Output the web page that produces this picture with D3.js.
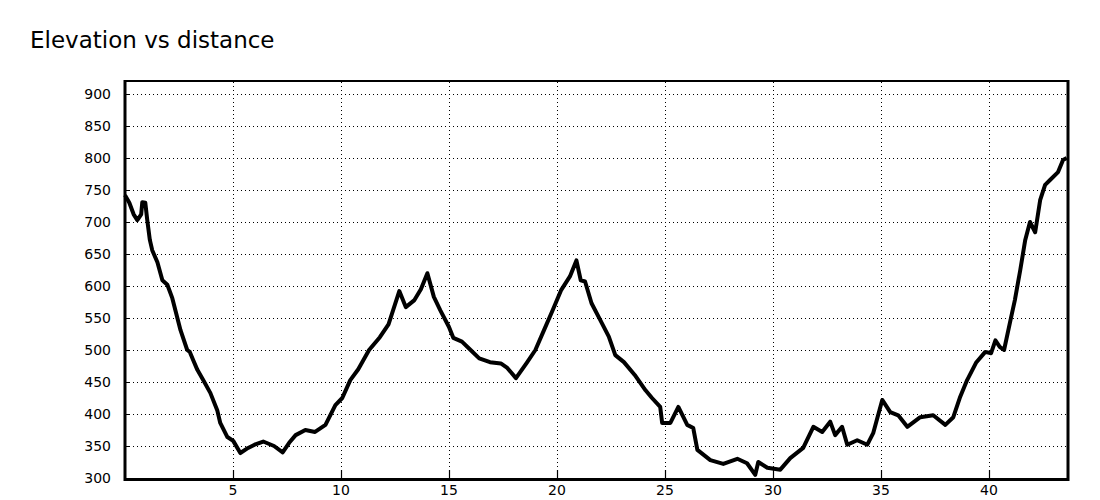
<!DOCTYPE html>
<html>
<head>
<meta charset="utf-8">
<script src="https://cdn.jsdelivr.net/npm/d3@7"></script>
<style>
  html, body { margin: 0; padding: 0; background: #fff; }
  svg { display: block; }
</style>
</head>
<body>
<svg id="chart" width="1100" height="500"></svg>
<script>
const title = "Elevation vs distance";
const yTicks = [300, 350, 400, 450, 500, 550, 600, 650, 700, 750, 800, 850, 900];
const xTicks = [5, 10, 15, 20, 25, 30, 35, 40];

const distance = [
  0.0, 0.2, 0.4, 0.57, 0.75, 0.8, 0.94, 1.03, 1.15, 1.26, 1.5, 1.73, 1.96, 2.19,
  2.57, 2.88, 3.0, 3.16, 3.35, 3.62, 3.95, 4.27, 4.41, 4.74, 5.01, 5.34,
  5.7, 6.0, 6.4, 6.9, 7.3, 7.6, 7.9, 8.35, 8.8, 9.28, 9.74, 10.06, 10.43,
  10.8, 11.3, 11.8, 12.2, 12.7, 13.0, 13.4, 13.7, 14.0, 14.3, 14.6, 15.0,
  15.2, 15.6, 16.0, 16.4, 16.9, 17.4, 17.7, 18.1, 18.6, 19.0, 19.4, 19.8,
  20.2, 20.6, 20.9, 21.1, 21.3, 21.6, 22.0, 22.4, 22.7, 23.1, 23.6, 24.1,
  24.4, 24.78, 24.87, 25.25, 25.62, 26.03, 26.31, 26.5, 27.1, 27.7, 28.35,
  28.8, 29.18, 29.32, 29.74, 30.34, 30.8, 31.4, 31.87, 32.28, 32.65, 32.88,
  33.2, 33.44, 33.9, 34.37, 34.64, 35.06, 35.43, 35.8, 36.22, 36.82, 37.42,
  37.98, 38.35, 38.67, 38.99, 39.4, 39.83, 40.1, 40.3, 40.5, 40.7, 41.0,
  41.2, 41.45, 41.68, 41.9, 42.14, 42.37, 42.6, 42.84, 43.2, 43.43, 43.6
];
const elevation = [
  742, 730, 712, 703, 712, 731, 730, 703, 672, 656, 637, 609, 602, 581,
  531, 500, 497, 484, 469, 453, 433, 406, 386, 364, 358, 339,
  347, 352, 357, 350, 340, 355, 367, 375, 372, 383, 414, 425, 453,
  470, 500, 520, 540, 592, 567, 578, 595, 620, 583, 562, 536,
  519, 513, 500, 487, 481, 479, 472, 456, 480, 500, 531, 562,
  594, 615, 640, 609, 607, 573, 547, 521, 492, 481, 461, 437,
  425, 411, 386, 386, 411, 383, 378, 344, 328, 322, 330,
  323, 305, 325, 316, 313, 331, 347, 380, 372, 388, 367,
  380, 352, 359, 352, 370, 422, 403, 398, 380, 395, 398,
  383, 395, 427, 453, 480, 497, 495, 515, 505, 500, 547,
  578, 625, 672, 700, 684, 734, 758, 766, 778, 797, 800
];

const svg = d3.select("#chart");
const pL = 125, pR = 1068, pT = 80, pB = 479;

const x = d3.scaleLinear().domain([0, 43.66]).range([pL, pR]);
const y = d3.scaleLinear().domain([300, 900]).range([478, 94]);

svg.append("text")
  .attr("x", 30).attr("y", 48)
  .attr("font-family", "DejaVu Sans, sans-serif")
  .attr("font-size", 23)
  .attr("fill", "#000")
  .text(title);

// grid
const g = svg.append("g");
g.selectAll(".hgrid").data(yTicks.filter(v => v > 300)).join("line")
  .attr("x1", pL + 4).attr("x2", pR - 2)
  .attr("y1", d => Math.round(y(d)) + 0.5).attr("y2", d => Math.round(y(d)) + 0.5)
  .attr("stroke", "#000").attr("stroke-width", 1)
  .attr("stroke-dasharray", "1,3");
g.selectAll(".htick").data(yTicks.filter(v => v > 300)).join("line")
  .attr("x1", pL).attr("x2", pL + 4)
  .attr("y1", d => Math.round(y(d)) + 0.5).attr("y2", d => Math.round(y(d)) + 0.5)
  .attr("stroke", "#000").attr("stroke-width", 1);
g.selectAll(".vgrid").data(xTicks).join("line")
  .attr("x1", d => Math.round(x(d)) + 0.5).attr("x2", d => Math.round(x(d)) + 0.5)
  .attr("y1", pT + 2).attr("y2", pB - 9)
  .attr("stroke", "#000").attr("stroke-width", 1)
  .attr("stroke-dasharray", "1,3");
g.selectAll(".vtick").data(xTicks).join("line")
  .attr("x1", d => Math.round(x(d)) + 0.5).attr("x2", d => Math.round(x(d)) + 0.5)
  .attr("y1", pB - 9).attr("y2", pB)
  .attr("stroke", "#000").attr("stroke-width", 1.2);

// line
const line = d3.line().x((d, i) => x(distance[i])).y(d => y(d));
svg.append("path")
  .datum(elevation)
  .attr("d", line)
  .attr("fill", "none")
  .attr("stroke", "#000")
  .attr("stroke-width", 4)
  .attr("stroke-linejoin", "round");

// frame
svg.append("line").attr("x1", pL - 1).attr("x2", pR + 1).attr("y1", pT + 1).attr("y2", pT + 1)
  .attr("stroke", "#000").attr("stroke-width", 2);
svg.append("line").attr("x1", pL - 1).attr("x2", pR + 1).attr("y1", pB + 0.5).attr("y2", pB + 0.5)
  .attr("stroke", "#000").attr("stroke-width", 3);
svg.append("line").attr("x1", pL).attr("x2", pL).attr("y1", pT).attr("y2", pB + 2)
  .attr("stroke", "#000").attr("stroke-width", 3);
svg.append("line").attr("x1", pR).attr("x2", pR).attr("y1", pT).attr("y2", pB + 2)
  .attr("stroke", "#000").attr("stroke-width", 3);

// labels
svg.selectAll(".ylab").data(yTicks).join("text")
  .attr("x", 111).attr("y", d => y(d))
  .attr("dy", "0.36em")
  .attr("text-anchor", "end")
  .attr("font-family", "DejaVu Sans, sans-serif")
  .attr("font-size", 14)
  .attr("fill", "#000")
  .text(d => d);
svg.selectAll(".xlab").data(xTicks).join("text")
  .attr("x", d => x(d)).attr("y", 495)
  .attr("text-anchor", "middle")
  .attr("font-family", "DejaVu Sans, sans-serif")
  .attr("font-size", 14)
  .attr("fill", "#000")
  .text(d => d);
</script>
</body>
</html>
